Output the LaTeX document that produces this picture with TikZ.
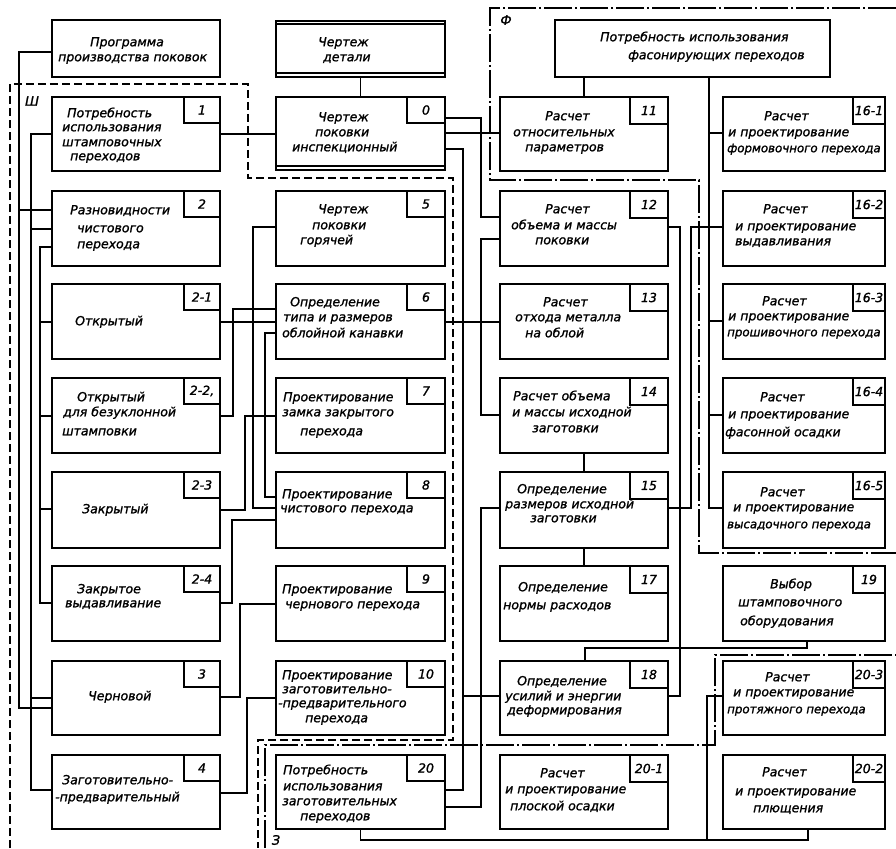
\documentclass[tikz,border=0pt]{standalone}
\usepackage{fontspec}
\newfontfamily\djfont{DejaVu Sans}[FakeBold=1.3]
\begin{document}
\begin{tikzpicture}[x=1pt,y=-1pt,
 box/.style={draw, line width=1.6pt, inner sep=0pt, outer sep=0pt, anchor=north west},
 colA/.style={minimum width=168pt},
 colB/.style={minimum width=169pt},
 colC/.style={minimum width=168pt},
 colD/.style={minimum width=162pt},
 tabbox/.style={draw, line width=1.3pt, anchor=north east, inner sep=0pt, outer sep=0pt, font=\djfont\itshape\fontsize{12.5}{12}\selectfont},
 tabA/.style={tabbox, minimum width=36pt, minimum height=26pt},
 tabB/.style={tabbox, minimum width=38pt, minimum height=26pt},
 tabC/.style={tabbox, minimum width=38pt, minimum height=27pt},
 tabD/.style={tabbox, minimum width=32pt, minimum height=27pt},
 txt/.style={inner sep=0pt, anchor=west, font=\djfont\itshape\fontsize{12.5}{14}\selectfont, text height=6.5pt, text depth=0pt},
 txtn/.style={txt, font=\djfont\itshape\fontsize{11.8}{14}\selectfont},
 lbl/.style={inner sep=0pt, font=\djfont\itshape\fontsize{13}{14}\selectfont},
 con/.style={line width=1.4pt},
 dbl/.style={line width=1.3pt},
 shb/.style={line width=1.2pt, dash pattern=on 8pt off 4pt},
 ddot/.style={line width=1.2pt, dash pattern=on 28pt off 3pt on 2pt off 3pt}]
\useasboundingbox (0,0) rectangle (896,848);
\fill[white] (0,0) rectangle (896,848);

% ---- boxes ----
\node[box, colA, minimum height=57pt] (prog) at (52,20) {};
\node[box, colB, minimum height=56pt] (det) at (276,21) {};
\node[box, minimum width=275pt, minimum height=57pt] (fas) at (555,20) {};

\node[box, colA, minimum height=74pt] (b1) at (52,97) {};
\node[box, colB, minimum height=73pt] (b0) at (276,97) {};
\node[box, colC, minimum height=74pt] (b11) at (500,97) {};
\node[box, colD, minimum height=74pt] (b161) at (723,97) {};

\node[box, colA, minimum height=75pt] (b2) at (52,191) {};
\node[box, colB, minimum height=75pt] (b5) at (276,191) {};
\node[box, colC, minimum height=75pt] (b12) at (500,191) {};
\node[box, colD, minimum height=75pt] (b162) at (723,191) {};

\node[box, colA, minimum height=75pt] (b21) at (52,284) {};
\node[box, colB, minimum height=75pt] (b6) at (276,284) {};
\node[box, colC, minimum height=75pt] (b13) at (500,284) {};
\node[box, colD, minimum height=75pt] (b163) at (723,284) {};

\node[box, colA, minimum height=75pt] (b22) at (52,378) {};
\node[box, colB, minimum height=75pt] (b7) at (276,378) {};
\node[box, colC, minimum height=75pt] (b14) at (500,378) {};
\node[box, colD, minimum height=75pt] (b164) at (723,378) {};

\node[box, colA, minimum height=76pt] (b23) at (52,472) {};
\node[box, colB, minimum height=76pt] (b8) at (276,472) {};
\node[box, colC, minimum height=76pt] (b15) at (500,472) {};
\node[box, colD, minimum height=76pt] (b165) at (723,472) {};

\node[box, colA, minimum height=75pt] (b24) at (52,566) {};
\node[box, colB, minimum height=75pt] (b9) at (276,566) {};
\node[box, colC, minimum height=75pt] (b17) at (500,566) {};
\node[box, colD, minimum height=75pt] (b19) at (723,566) {};

\node[box, colA, minimum height=74pt] (b3) at (52,661) {};
\node[box, colB, minimum height=74pt] (b10) at (276,661) {};
\node[box, colC, minimum height=74pt] (b18) at (500,661) {};
\node[box, colD, minimum height=74pt] (b203) at (723,661) {};

\node[box, colA, minimum height=74pt] (b4) at (52,755) {};
\node[box, colB, minimum height=74pt] (b20) at (276,755) {};
\node[box, colC, minimum height=74pt] (b201) at (500,755) {};
\node[box, colD, minimum height=74pt] (b202) at (723,755) {};

% double lines
\draw[dbl] ([yshift=-3pt]det.north west) -- ([yshift=-3pt]det.north east);
\draw[dbl] ([yshift=4pt]det.south west) -- ([yshift=4pt]det.south east);
\draw[dbl] ([yshift=4pt]b0.south west) -- ([yshift=4pt]b0.south east);

% ---- tabs ----
\node[tabA] (n1) at (b1.north east) {1};
\node[tabA] (n2) at (b2.north east) {2};
\node[tabA] (n21) at (b21.north east) {2-1};
\node[tabA] (n22) at (b22.north east) {2-2,};
\node[tabA] (n23) at (b23.north east) {2-3};
\node[tabA] (n24) at (b24.north east) {2-4};
\node[tabA] (n3) at (b3.north east) {3};
\node[tabA] (n4) at (b4.north east) {4};
\node[tabB] (n0) at (b0.north east) {0};
\node[tabB] (n5) at (b5.north east) {5};
\node[tabB] (n6) at (b6.north east) {6};
\node[tabB] (n7) at (b7.north east) {7};
\node[tabB] (n8) at (b8.north east) {8};
\node[tabB] (n9) at (b9.north east) {9};
\node[tabB] (n10) at (b10.north east) {10};
\node[tabB] (n20) at (b20.north east) {20};
\node[tabC] (n11) at (b11.north east) {11};
\node[tabC] (n12) at (b12.north east) {12};
\node[tabC] (n13) at (b13.north east) {13};
\node[tabC] (n14) at (b14.north east) {14};
\node[tabC] (n15) at (b15.north east) {15};
\node[tabC] (n17) at (b17.north east) {17};
\node[tabC] (n18) at (b18.north east) {18};
\node[tabC] (n201) at (b201.north east) {20-1};
\node[tabD] (n161) at (b161.north east) {16-1};
\node[tabD] (n162) at (b162.north east) {16-2};
\node[tabD] (n163) at (b163.north east) {16-3};
\node[tabD] (n164) at (b164.north east) {16-4};
\node[tabD] (n165) at (b165.north east) {16-5};
\node[tabD] (n19) at (b19.north east) {19};
\node[tabD] (n203) at (b203.north east) {20-3};
\node[tabD] (n202) at (b202.north east) {20-2};

% ---- texts ----
\node[txt] (tpa) at (90,43) {Программа};
\node[txt] (tpb) at (58,58) {производства поковок};
\node[txt] (tda) at (318,43) {Чертеж};
\node[txt] (tdb) at (323,58) {детали};
\node[txt] (tfa) at (600,38) {Потребность использования};
\node[txt] (tfb) at (628,56) {фасонирующих переходов};

\node[txt] (t1a) at (67,114) {Потребность};
\node[txt] (t1b) at (62,128) {использования};
\node[txt] (t1c) at (62,143) {штамповочных};
\node[txt] (t1d) at (70,157) {переходов};
\node[txt] (t0a) at (318,118) {Чертеж};
\node[txt] (t0b) at (315,133) {поковки};
\node[txt] (t0c) at (292,148) {инспекционный};
\node[txt] (t11a) at (545,117) {Расчет};
\node[txt] (t11b) at (513,133) {относительных};
\node[txt] (t11c) at (525,148) {параметров};
\node[txt] (t161a) at (764,117) {Расчет};
\node[txt] (t161b) at (728,133) {и проектирование};
\node[txtn] (t161c) at (727,149) {формовочного перехода};

\node[txt] (t2a) at (70,211) {Разновидности};
\node[txt] (t2b) at (77,229) {чистового};
\node[txt] (t2c) at (77,245) {перехода};
\node[txt] (t5a) at (318,210) {Чертеж};
\node[txt] (t5b) at (312,226) {поковки};
\node[txt] (t5c) at (300,241) {горячей};
\node[txt] (t12a) at (545,210) {Расчет};
\node[txt] (t12b) at (511,226) {объема и массы};
\node[txt] (t12c) at (535,241) {поковки};
\node[txt] (t162a) at (763,210) {Расчет};
\node[txt] (t162b) at (735,227) {и проектирование};
\node[txt] (t162c) at (735,242) {выдавливания};

\node[txt] (t21a) at (75,322) {Открытый};
\node[txt] (t6a) at (290,303) {Определение};
\node[txt] (t6b) at (283,318) {типа и размеров};
\node[txt] (t6c) at (282,334) {облойной канавки};
\node[txt] (t13a) at (543,303) {Расчет};
\node[txt] (t13b) at (515,318) {отхода металла};
\node[txt] (t13c) at (525,334) {на облой};
\node[txt] (t163a) at (762,302) {Расчет};
\node[txt] (t163b) at (728,317) {и проектирование};
\node[txtn] (t163c) at (727,333) {прошивочного перехода};

\node[txt] (t22a) at (77,398) {Открытый};
\node[txt] (t22b) at (63,413) {для безуклонной};
\node[txt] (t22c) at (62,432) {штамповки};
\node[txt] (t7a) at (283,398) {Проектирование};
\node[txt] (t7b) at (282,413) {замка закрытого};
\node[txt] (t7c) at (300,432) {перехода};
\node[txt] (t14a) at (513,397) {Расчет объема};
\node[txt] (t14b) at (512,413) {и массы исходной};
\node[txt] (t14c) at (532,429) {заготовки};
\node[txt] (t164a) at (760,398) {Расчет};
\node[txt] (t164b) at (728,415) {и проектирование};
\node[txt] (t164c) at (725,433) {фасонной осадки};

\node[txt] (t23a) at (82,510) {Закрытый};
\node[txt] (t8a) at (282,495) {Проектирование};
\node[txt] (t8b) at (280,509) {чистового перехода};
\node[txt] (t15a) at (517,490) {Определение};
\node[txt] (t15b) at (505,505) {размеров исходной};
\node[txt] (t15c) at (530,519) {заготовки};
\node[txt] (t165a) at (760,493) {Расчет};
\node[txt] (t165b) at (733,508) {и проектирование};
\node[txtn] (t165c) at (727,525) {высадочного перехода};

\node[txt] (t24a) at (77,590) {Закрытое};
\node[txt] (t24b) at (65,604) {выдавливание};
\node[txt] (t9a) at (282,590) {Проектирование};
\node[txt] (t9b) at (285,605) {чернового перехода};
\node[txt] (t17a) at (518,588) {Определение};
\node[txt] (t17b) at (503,606) {нормы расходов};
\node[txt] (t19a) at (770,585) {Выбор};
\node[txt] (t19b) at (738,603) {штамповочного};
\node[txt] (t19c) at (740,622) {оборудования};

\node[txt] (t3a) at (88,697) {Черновой};
\node[txt] (t10a) at (282,676) {Проектирование};
\node[txt] (t10b) at (282,690) {заготовительно-};
\node[txt] (t10c) at (278,704) {-предварительного};
\node[txt] (t10d) at (305,719) {перехода};
\node[txt] (t18a) at (517,682) {Определение};
\node[txt] (t18b) at (505,697) {усилий и энергии};
\node[txt] (t18c) at (507,711) {деформирования};
\node[txt] (t203a) at (765,678) {Расчет};
\node[txt] (t203b) at (733,693) {и проектирование};
\node[txtn] (t203c) at (727,710) {протяжного перехода};

\node[txt] (t4a) at (62,781) {Заготовительно-};
\node[txt] (t4b) at (55,798) {-предварительный};
\node[txt] (t20a) at (283,771) {Потребность};
\node[txt] (t20b) at (283,787) {использования};
\node[txt] (t20c) at (282,802) {заготовительных};
\node[txt] (t20d) at (300,817) {переходов};
\node[txt] (t201a) at (540,774) {Расчет};
\node[txt] (t201b) at (505,790) {и проектирование};
\node[txt] (t201c) at (510,807) {плоской осадки};
\node[txt] (t202a) at (762,773) {Расчет};
\node[txt] (t202b) at (735,792) {и проектирование};
\node[txt] (t202c) at (753,809) {плющения};

% ---- region labels ----
\node[lbl] (lsh) at (32,101) {Ш};
\node[lbl] (lf) at (506,20) {Ф};
\node[lbl] (lz) at (276,840) {З};

% ---- region boundaries ----
\draw[shb] (10,848) -- (10,84) -- (248,84) -- (248,178) -- (453,178) -- (453,740) -- (258,740) -- (258,848);
\draw[ddot] (896,8) -- (490,8) -- (490,180) -- (699,180) -- (699,553) -- (896,553);
\draw[ddot] (265,848) -- (265,745) -- (715,745) -- (715,655) -- (896,655);

% ---- connectors: left channel ----
\draw[con] (prog.west |- 0,52) -| (19,708) -- (b3.west |- 0,708);
\draw[con] (19,210) -- (b2.west |- 0,210);
\draw[con] (b1.west |- 0,134) -| (31,790) -- (b4.west |- 0,790);
\draw[con] (31,229) -- (b2.west |- 0,229);
\draw[con] (31,698) -- (b3.west |- 0,698);
\draw[con] (b2.west |- 0,247) -| (40,603) -- (b24.west |- 0,603);
\draw[con] (40,322) -- (b21.west |- 0,322);
\draw[con] (40,416) -- (b22.west |- 0,416);
\draw[con] (40,509) -- (b23.west |- 0,509);

% ---- A-B channel ----
\draw[con] (b1.east |- 0,134) -- (b0.west |- 0,134);
\draw[con] (b5.west |- 0,227) -| (253,508) -- (b8.west |- 0,508);
\draw[con] (b6.west |- 0,333) -| (265,497) -- (b8.west |- 0,497);
\draw[con] (b21.east |- 0,322) -- (b6.west |- 0,322);
\draw[con] (b22.east |- 0,416) -| (233,309) -- (b6.west |- 0,309);
\draw[con] (b23.east |- 0,510) -| (245,416) -- (b7.west |- 0,416);
\draw[con] (b24.east |- 0,603) -| (232,520) -- (b8.west |- 0,520);
\draw[con] (b3.east |- 0,697) -| (240,604) -- (b9.west |- 0,604);
\draw[con] (b4.east |- 0,793) -| (247,698) -- (b10.west |- 0,698);

% ---- B-C channel ----
\draw[con] (det.south) -- (b0.north);
\draw[con] (b0.east |- 0,118) -| (481,217) -- (b12.west |- 0,217);
\draw[con] (b0.east |- 0,133) -- (b11.west |- 0,133);
\draw[con] (b0.east |- 0,149) -| (463,790) -- (b20.east |- 0,790);
\draw[con] (463,696) -- (b18.west |- 0,696);
\draw[con] (b12.west |- 0,239) -| (481,415) -- (b14.west |- 0,415);
\draw[con] (b6.east |- 0,322) -- (b13.west |- 0,322);
\draw[con] (b15.west |- 0,508) -| (481,807) -- (b20.east |- 0,807);

% ---- column C and C-D channel ----
\draw[con] (fas.south -| 584,0) -- (b11.north -| 584,0);
\draw[con] (b14.south) -- (b15.north);
\draw[con] (b15.south) -- (b17.north);
\draw[con] (b12.east |- 0,227) -| (680,696) -- (b18.east |- 0,696);
\draw[con] (b15.east |- 0,508) -| (691,227) -- (b162.west |- 0,227);
\draw[con] (fas.south -| 709,0) |- (b165.west |- 0,508);
\draw[con] (709,133) -- (b161.west |- 0,133);
\draw[con] (709,321) -- (b163.west |- 0,321);
\draw[con] (709,415) -- (b164.west |- 0,415);
\draw[con] (b19.south -| 807,0) |- (585,648) -- (b18.north -| 585,0);
\draw[con] (b20.south) |- (808,840) -- (b202.south -| 808,0);
\draw[con] (707,840) |- (b203.west |- 0,696);
\end{tikzpicture}
\end{document}
